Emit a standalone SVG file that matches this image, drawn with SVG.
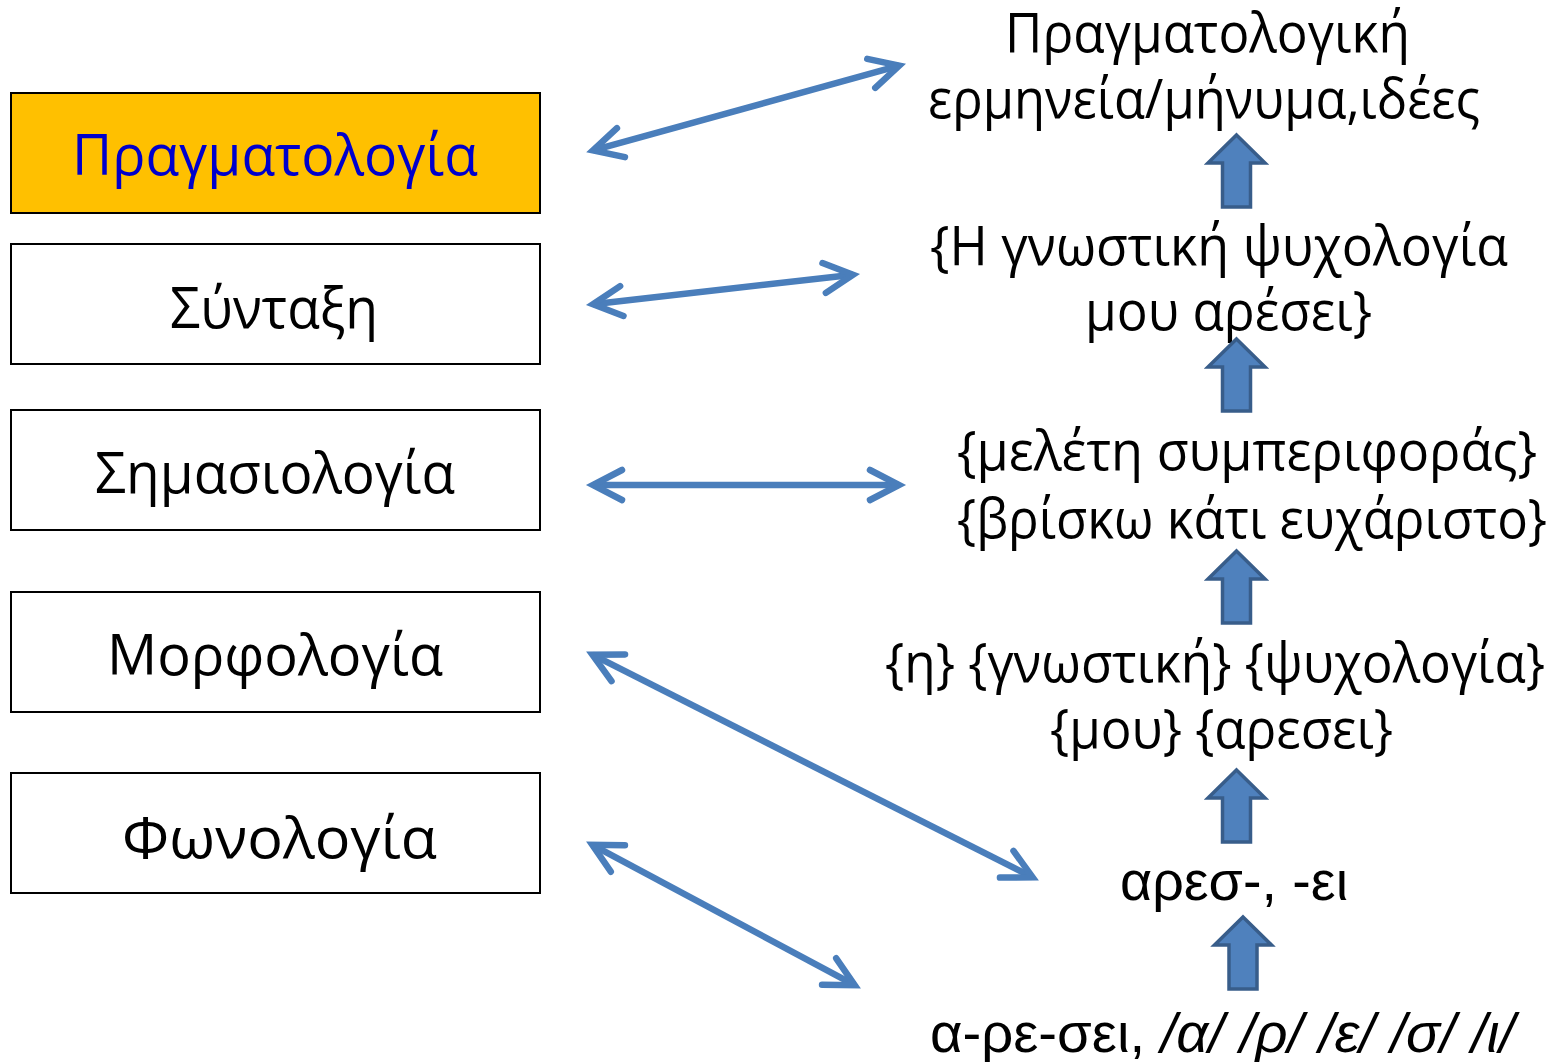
<svg xmlns="http://www.w3.org/2000/svg" width="1564" height="1062" viewBox="0 0 1564 1062">
<style>
.box{fill:#ffffff;stroke:#000000;stroke-width:2}
.lbl{font-family:"Open Sans","Noto Sans",sans-serif;font-size:56px;fill:#000;text-anchor:middle}
.rt{font-family:"Open Sans","Noto Sans",sans-serif;font-size:54px;fill:#000;text-anchor:middle}
.rta{font-family:"Liberation Sans",Arial,sans-serif;font-size:56px;fill:#000;text-anchor:middle}
.conn{stroke:#4a7ebb;stroke-width:6.5;fill:none;marker-start:url(#ah);marker-end:url(#ah)}
.up{fill:#4f81bd;stroke:#385d8a;stroke-width:3.5}
</style>
<defs>
<marker id="ah" markerUnits="userSpaceOnUse" orient="auto-start-reverse" viewBox="-40 -22 48 44" refX="0" refY="0" markerWidth="48" markerHeight="44" overflow="visible">
<path d="M-29,-15 L0,0 L-29,15" fill="none" stroke="#4a7ebb" stroke-width="6.5" stroke-linecap="round" stroke-linejoin="miter"/>
</marker>
<path id="uparrow" d="M0,0 L28.5,28 L14,28 L14,72 L-14,72 L-14,28 L-28.5,28 Z"/>
</defs>

<g id="node-pragmatologia">
<rect x="11" y="93" width="529" height="120" class="box" style="fill:#ffc000"/>
<text x="275" y="175" class="lbl" style="fill:#0000cc" textLength="406" lengthAdjust="spacingAndGlyphs">Πραγματολογία</text>
</g>
<g id="node-syntaxi">
<rect x="11" y="244" width="529" height="120" class="box"/>
<text x="274" y="328" class="lbl" textLength="208" lengthAdjust="spacingAndGlyphs">Σύνταξη</text>
</g>
<g id="node-simasiologia">
<rect x="11" y="410" width="529" height="120" class="box"/>
<text x="275" y="493" class="lbl" textLength="360" lengthAdjust="spacingAndGlyphs">Σημασιολογία</text>
</g>
<g id="node-morfologia">
<rect x="11" y="592" width="529" height="120" class="box"/>
<text x="275" y="675" class="lbl" textLength="336" lengthAdjust="spacingAndGlyphs">Μορφολογία</text>
</g>
<g id="node-fonologia">
<rect x="11" y="773" width="529" height="120" class="box"/>
<text x="279.5" y="858" class="lbl" textLength="315" lengthAdjust="spacingAndGlyphs">Φωνολογία</text>
</g>

<g id="node-r1">
<text x="1207.5" y="52" class="rt" textLength="405" lengthAdjust="spacingAndGlyphs">Πραγματολογική</text>
<text x="1204" y="118" class="rt" textLength="552" lengthAdjust="spacingAndGlyphs">ερμηνεία/μήνυμα,ιδέες</text>
</g>
<g id="node-r2">
<text x="1219" y="265" class="rt" textLength="578" lengthAdjust="spacingAndGlyphs">{Η γνωστική ψυχολογία</text>
<text x="1228.5" y="330" class="rt" textLength="287" lengthAdjust="spacingAndGlyphs">μου αρέσει}</text>
</g>
<g id="node-r3">
<text x="1247" y="470" class="rt" textLength="580" lengthAdjust="spacingAndGlyphs">{μελέτη συμπεριφοράς}</text>
<text x="1252" y="538" class="rt" textLength="590" lengthAdjust="spacingAndGlyphs">{βρίσκω κάτι ευχάριστο}</text>
</g>
<g id="node-r4">
<text x="1215" y="682" class="rt" textLength="660" lengthAdjust="spacingAndGlyphs">{η} {γνωστική} {ψυχολογία}</text>
<text x="1221.5" y="748" class="rt" textLength="343" lengthAdjust="spacingAndGlyphs">{μου} {αρεσει}</text>
</g>
<g id="node-r5">
<text x="1234" y="900" class="rta" textLength="228" lengthAdjust="spacingAndGlyphs">αρεσ-, -ει</text>
</g>
<g id="node-r6">
<text x="1222.5" y="1052" class="rta" textLength="585" lengthAdjust="spacingAndGlyphs">α-ρε-σει, <tspan font-style="italic">/α/ /ρ/ /ε/ /σ/ /ι/</tspan></text>
</g>

<g id="up-arrows">
<use href="#uparrow" class="up" transform="translate(1236.5,135)"/>
<use href="#uparrow" class="up" transform="translate(1236.5,339)"/>
<use href="#uparrow" class="up" transform="translate(1236.5,551)"/>
<use href="#uparrow" class="up" transform="translate(1236.5,770)"/>
<use href="#uparrow" class="up" transform="translate(1243,917)"/>
</g>

<g id="connectors">
<line class="conn" x1="593" y1="150.4" x2="899.2" y2="65.6"/>
<line class="conn" x1="593" y1="304.3" x2="853" y2="274.7"/>
<line class="conn" x1="593" y1="485" x2="899" y2="485"/>
<line class="conn" x1="592.4" y1="654.7" x2="1032.6" y2="877.3"/>
<line class="conn" x1="592.3" y1="844.8" x2="854.7" y2="985.2"/>
</g>
</svg>
